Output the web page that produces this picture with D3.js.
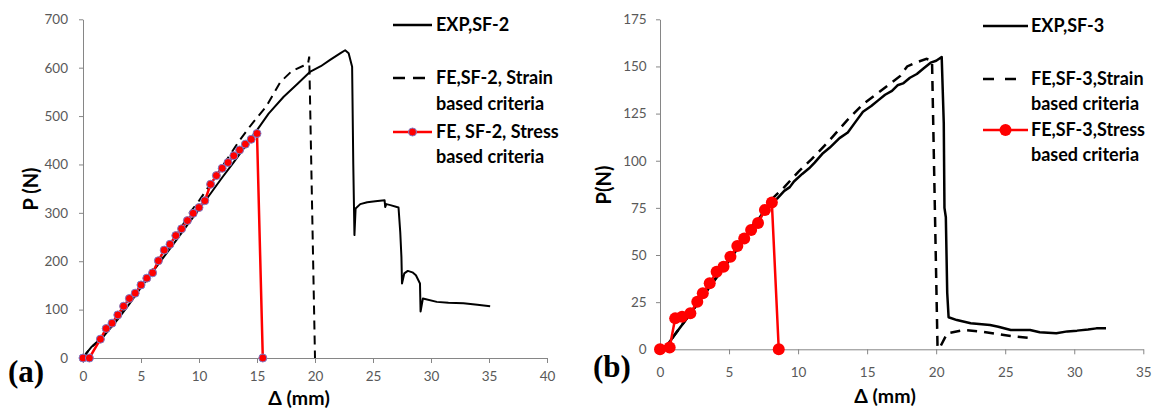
<!DOCTYPE html>
<html>
<head>
<meta charset="utf-8">
<script src="https://cdn.jsdelivr.net/npm/d3@7"></script>
<style>
  body { margin: 0; background: #fff; }
  svg { display: block; }
  .tick text { font-family: Lato, "Open Sans", sans-serif; font-size: 13.5px; fill: #595959; }
  .tick line, .domain { stroke: #868686; }
  .lbl { font-family: Lato, "Open Sans", sans-serif; font-weight: bold; fill: #000; }
  .tag { font-family: "Liberation Serif", serif; font-weight: bold; fill: #000; }
</style>
</head>
<body>
<svg id="chart" width="1163" height="409"></svg>
<script>
// ---- panel (a): SF-2 ----
var xTicksA = [0, 5, 10, 15, 20, 25, 30, 35, 40]
var yTicksA = [0, 100, 200, 300, 400, 500, 600, 700]
var expSF2 = [[0,0],[0.3,10],[0.7,22],[1.75,44],[3,80],[4,112],[5,146],[6,178],[7,210],[8,242],[9,275],[10,307],[11,340],[12,373],[13,405],[14,438],[15,471],[16,505],[17.3,540],[18.5,567],[19.6,592],[20.5,603],[21.3,616],[22.2,630],[22.6,636],[22.9,630],[23.2,602],[23.3,400],[23.4,254],[23.5,309],[23.9,318],[24.5,322],[25.2,324],[26.0,326],[26.05,312],[26.15,318],[26.5,316],[27.2,311],[27.35,260],[27.45,209],[27.5,154],[27.7,175],[28.0,180],[28.4,177],[28.7,171],[29.05,154],[29.1,96],[29.3,123],[30.5,116],[31.5,114],[32.8,113],[34,110],[35.1,107]]
var strainSF2 = [[0,0],[0.3,10],[0.7,22],[1.75,45],[4,118],[6,182],[8,250],[9.2,300],[10,325],[11,360],[12.4,410],[13.5,450],[14.5,482],[15.8,520],[17,570],[18,593],[19,604],[19.4,608],[19.5,623],[20,0]]
var stressSF2 = [[0,0],[0.55,0],[1.5,39],[2,61],[2.5,72],[3,89],[3.5,107],[4,123],[4.5,134],[5,151],[5.5,165],[6,176],[6.5,201],[7,223],[7.5,235],[8,253],[8.5,267],[9,284],[9.5,299],[10,311],[10.5,325],[11,359],[11.5,377],[12,392],[12.5,404],[13,418],[13.5,430],[14,442],[14.5,452],[15,464],[15.5,0]]

// ---- panel (b): SF-3 ----
var xTicksB = [0, 5, 10, 15, 20, 25, 30, 35]
var yTicksB = [0, 25, 50, 75, 100, 125, 150, 175]
var expSF3 = [[0,0],[0.5,2],[1,7],[1.7,14],[3,27],[5,47],[8,78],[8.5,80],[9,84],[9.4,86],[9.7,89],[10.3,93],[10.8,96],[11.2,99],[11.8,104],[12.3,107],[13,112],[13.6,115],[14.2,121],[14.7,126],[15.3,129],[15.8,132],[16.3,135],[16.8,137],[17.2,140],[17.6,141],[18.1,144],[18.6,146],[19.1,149],[19.6,152],[20.0,153],[20.4,155],[20.55,120],[20.6,75],[20.7,70],[20.8,30],[20.9,17],[21.5,15.5],[22.5,13.8],[23.9,12.9],[24.5,12],[25.4,10.2],[26.8,10.2],[27.5,9],[28.7,8.5],[29.5,9.5],[30.2,9.9],[31,10.5],[31.6,11.1],[32.3,11.1]]
var strainSF3 = [[0,0],[0.5,2],[1,7],[1.7,14],[3,27],[5,48],[8,79],[9,86],[10,94],[11,101],[12.3,111],[13.5,121],[14.7,130],[15.8,136],[17.4,145],[17.9,150],[18.5,152],[19.3,154],[19.7,153],[20.1,0.5],[20.3,1.4],[20.8,8.5],[22,10.2],[23.4,9.3],[24.9,7.6],[25.8,6.7],[27.05,5.8]]
var stressSF3 = [[0,0],[0.7,0.9],[1.1,16.4],[1.6,17.3],[2.2,19.1],[2.7,25.2],[3.1,29.7],[3.6,35],[4.1,41.1],[4.6,43.8],[5.1,49.1],[5.6,54.8],[6.1,58.8],[6.6,63.3],[7.1,67],[7.6,73.9],[8.1,77.8],[8.6,0]]

var svg = d3.select('#chart')

function drawPanel(p){
    var x = d3.scaleLinear().domain([0, p.xMax]).range(p.xRange)
    var y = d3.scaleLinear().domain([0, p.yMax]).range(p.yRange)
    var g = svg.append("g")
    g.append("g")
        .attr("transform", `translate(0,${p.yRange[0]})`)
        .call(d3.axisBottom(x).tickValues(p.xTicks).tickSize(5).tickSizeOuter(0).tickPadding(p.xPad))
    g.append("g")
        .attr("transform", `translate(${p.xRange[0]},0)`)
        .call(d3.axisLeft(y).tickValues(p.yTicks).tickSize(4).tickSizeOuter(0).tickPadding(p.yPad))
    var line = d3.line().x(d => x(d[0])).y(d => y(d[1]))
    g.append("path").attr("d", line(p.exp))
        .attr("fill", "none").attr("stroke", "#000").attr("stroke-width", p.lw)
        .attr("stroke-linejoin", "round")
    g.append("path").attr("d", line(p.strain))
        .attr("fill", "none").attr("stroke", "#000").attr("stroke-width", p.lw)
        .attr("stroke-dasharray", p.dash)
    g.append("path").attr("d", line(p.stress))
        .attr("fill", "none").attr("stroke", "#ff0000").attr("stroke-width", 2.5)
    g.selectAll("circle.pt").data(p.stress).join("circle")
        .attr("class", "pt")
        .attr("cx", d => x(d[0])).attr("cy", d => y(d[1]))
        .attr("r", p.r).attr("fill", "#ff0000")
        .attr("stroke", p.ms).attr("stroke-width", p.ms == "none" ? 0 : 1)

    // legend
    var L = p.leg
    g.append("line").attr("x1", L.x0).attr("x2", L.x1).attr("y1", L.ys[0]).attr("y2", L.ys[0])
        .attr("stroke", "#000").attr("stroke-width", 2.5)
    g.append("line").attr("x1", L.x0).attr("x2", L.dx1).attr("y1", L.ys[1]).attr("y2", L.ys[1])
        .attr("stroke", "#000").attr("stroke-width", 2.5).attr("stroke-dasharray", L.dash)
    g.append("line").attr("x1", L.x0).attr("x2", L.x1).attr("y1", L.ys[2]).attr("y2", L.ys[2])
        .attr("stroke", "#ff0000").attr("stroke-width", 2.5)
    g.append("circle").attr("cx", (L.x0 + L.x1) / 2).attr("cy", L.ys[2]).attr("r", L.r)
        .attr("fill", "#ff0000").attr("stroke", p.ms).attr("stroke-width", p.ms == "none" ? 0 : 1)
    L.texts.forEach(function(t){
        g.append("text").attr("class", "lbl").attr("x", L.tx).attr("y", t[1])
            .attr("font-size", 18).text(t[0])
    })

    g.append("text").attr("class", "lbl").attr("font-size", 20)
        .attr("text-anchor", "middle")
        .attr("transform", `translate(${p.yTitle[0]},${p.yTitle[1]}) rotate(-90)`)
        .text(p.yLabel)
    g.append("text").attr("class", "lbl").attr("font-size", 19.5)
        .attr("text-anchor", "middle").attr("x", p.xTitle[0]).attr("y", p.xTitle[1])
        .text("Δ (mm)")
    g.append("text").attr("class", "tag").attr("font-size", 31)
        .attr("x", p.tag[0]).attr("y", p.tag[1]).text(p.tagText)
}

drawPanel({
    xMax: 40, yMax: 700, xRange: [83, 547], yRange: [358, 19.3],
    xTicks: xTicksA, yTicks: yTicksA, xPad: 8.5, yPad: 11,
    exp: expSF2, strain: strainSF2, stress: stressSF2,
    lw: 2, dash: "9,6", r: 4, ms: "#7b7bc8",
    leg: {x0: 393, x1: 432, dx1: 425, ys: [25, 78, 132], dash: "12,8", r: 4, tx: 436,
        texts: [["EXP,SF-2", 31], ["FE,SF-2, Strain", 84], ["based criteria", 110], ["FE, SF-2, Stress", 138], ["based criteria", 163]]},
    yLabel: "P (N)", yTitle: [38, 189], xTitle: [299, 404.5],
    tag: [8, 382], tagText: "(a)"
})

drawPanel({
    xMax: 35, yMax: 175, xRange: [660, 1143.3], yRange: [349.3, 19.3],
    xTicks: xTicksB, yTicks: yTicksB, xPad: 13, yPad: 9.3,
    exp: expSF3, strain: strainSF3, stress: stressSF3,
    lw: 2.5, dash: "10,7", r: 6, ms: "none",
    leg: {x0: 983, x1: 1028, dx1: 1016, ys: [26, 79, 130], dash: "11,11", r: 6, tx: 1031,
        texts: [["EXP,SF-3", 32], ["FE,SF-3,Strain", 85], ["based criteria", 110], ["FE,SF-3,Stress", 136], ["based criteria", 161]]},
    yLabel: "P(N)", yTitle: [611, 185], xTitle: [885, 403],
    tag: [593, 377], tagText: "(b)"
})
</script>
</body>
</html>
